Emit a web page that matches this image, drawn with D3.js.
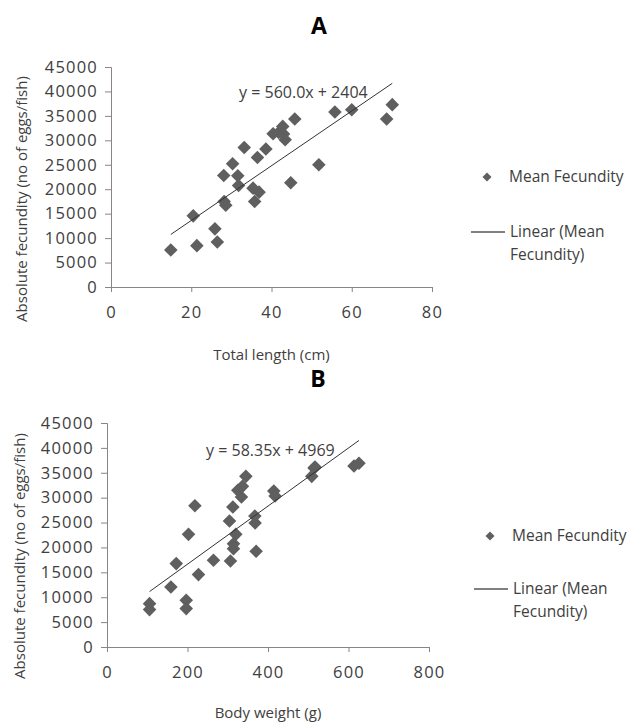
<!DOCTYPE html>
<html>
<head>
<meta charset="utf-8">
<script src="https://cdn.jsdelivr.net/npm/d3@7"></script>
<style>
  body { margin: 0; background: #fff; }
  text { font-family: "Open Sans", sans-serif; fill: #404040; }
</style>
</head>
<body>
<div id="chart"></div>
<script>
// panel A: total length vs fecundity
var lengthA = [14.9, 20.5, 21.4, 25.9, 26.5, 28.1, 28.2, 28.6, 30.3, 31.6, 31.8, 33.2, 35.4, 35.8, 36.5,
  36.9, 38.6, 40.4, 41.8, 42.8, 43.0, 43.4, 44.8, 45.8, 51.8, 55.8, 60.0, 68.7, 70.1];
var fecundityA = [7580, 14550, 8460, 11890, 9220, 22800, 17480, 16740, 25200, 22750, 20760, 28550, 20220, 17480, 26500,
  19400, 28210, 31350, 31620, 32850, 31290, 30120, 21310, 34370, 25000, 35800, 36270, 34370, 37300];

// panel B: body weight vs fecundity
var weightB = [105.7, 105.7, 158.8, 172, 196.8, 196.8, 202.5, 218.4, 227.3, 264.5, 304.3, 306.7, 312.7, 314.2, 314.2,
  320, 325, 334, 336.5, 345, 367.3, 368, 370.5, 414.4, 417.6, 508.7, 514.4, 516.9, 613.6, 626];
var fecundityB = [8710, 7510, 12050, 16750, 9380, 7710, 22630, 28390, 14540, 17410, 25300, 17270, 28110, 20760, 19760,
  22630, 31470, 30120, 32270, 34280, 26310, 24900, 19220, 31330, 30320, 34280, 35950, 36140, 36350, 36900];

// trend line coefficients (slope, intercept)
var trendA = [560.0, 2404];
var trendB = [58.35, 4969];
var equationLabels = ["y = 560.0x + 2404", "y = 58.35x + 4969"];

var yTicks = [0, 5000, 10000, 15000, 20000, 25000, 30000, 35000, 40000, 45000];
var xTicksA = [0, 20, 40, 60, 80];
var xTicksB = [0, 200, 400, 600, 800];

var panelTitles = ["A", "B"];
var xTitles = ["Total length (cm)", "Body weight (g)"];
var yTitle = "Absolute fecundity (no of eggs/fish)";
var legendLabels = ["Mean Fecundity", "Linear (Mean", "Fecundity)"];

var svg = d3.select("#chart")
  .append("svg")
  .attr("width", 635)
  .attr("height", 722);

var diamond = d3.symbol().type(d3.symbolSquare).size(92);

function drawPanel(opt) {
  var x = d3.scaleLinear().domain([0, opt.xMax]).range([opt.left, opt.right]);
  var y = d3.scaleLinear().domain([0, 45000]).range([opt.bottom, opt.top]);

  // title
  svg.append("text")
    .attr("x", opt.titleX)
    .attr("y", opt.titleY)
    .attr("text-anchor", "middle")
    .style("font-size", "23px")
    .style("font-weight", "bold")
    .style("fill", "#000")
    .text(opt.title);

  // y axis
  var yAxis = svg.append("g")
    .attr("transform", `translate(${opt.left}, 0)`)
    .call(d3.axisLeft(y).tickValues(yTicks).tickSize(6).tickPadding(7).tickFormat(d3.format("d")));

  // x axis
  var xAxis = svg.append("g")
    .attr("transform", `translate(0, ${opt.bottom})`)
    .call(d3.axisBottom(x).tickValues(opt.xTicks).tickSize(5).tickPadding(14));

  [yAxis, xAxis].forEach(function(ax) {
    ax.select(".domain").attr("stroke", "#868686");
    ax.selectAll(".tick line").attr("stroke", "#868686");
    ax.selectAll(".tick text")
      .style("font-size", "16.5px")
      .style("letter-spacing", "1.2px")
      .style("font-family", "'Open Sans', sans-serif")
      .attr("fill", "#404040");
  });

  // points
  svg.append("g").selectAll("path")
    .data(opt.xs)
    .enter()
    .append("path")
    .attr("d", diamond)
    .attr("transform", (d, i) => `translate(${x(d)}, ${y(opt.ys[i])}) rotate(45)`)
    .attr("fill", "#5f5f5f");

  // trend line
  var x0 = d3.min(opt.xs), x1 = d3.max(opt.xs);
  svg.append("line")
    .attr("x1", x(x0))
    .attr("y1", y(opt.trend[0] * x0 + opt.trend[1]))
    .attr("x2", x(x1))
    .attr("y2", y(opt.trend[0] * x1 + opt.trend[1]))
    .attr("stroke", "#333")
    .attr("stroke-width", 1);

  svg.append("text")
    .attr("x", opt.eqX)
    .attr("y", opt.eqY)
    .attr("dy", "0.35em")
    .style("font-size", "16px")
    .text(opt.equation);

  // axis titles
  svg.append("text")
    .attr("x", (opt.left + opt.right) / 2)
    .attr("y", opt.xTitleY)
    .attr("text-anchor", "middle")
    .style("font-size", "15px")
    .text(opt.xTitle);

  svg.append("text")
    .attr("transform", `translate(${opt.yTitleX}, ${opt.yTitleY}) rotate(-90)`)
    .attr("text-anchor", "middle")
    .attr("dy", "0.35em")
    .style("font-size", "15px")
    .text(yTitle);

  // legend
  svg.append("path")
    .attr("d", d3.symbol().type(d3.symbolSquare).size(40))
    .attr("transform", `translate(${opt.legX}, ${opt.legY}) rotate(45)`)
    .attr("fill", "#5f5f5f");

  svg.append("text")
    .attr("x", opt.legX + 22)
    .attr("y", opt.legY)
    .attr("dy", "0.35em")
    .style("font-size", "15.5px")
    .text(legendLabels[0]);

  svg.append("line")
    .attr("x1", opt.legX - 16)
    .attr("x2", opt.legX + 18)
    .attr("y1", opt.legY + opt.legGap)
    .attr("y2", opt.legY + opt.legGap)
    .attr("stroke", "#000")
    .attr("stroke-width", 1);

  svg.append("text")
    .attr("x", opt.legX + 23)
    .attr("y", opt.legY + opt.legGap)
    .attr("dy", "0.35em")
    .style("font-size", "15.5px")
    .text(legendLabels[1]);

  svg.append("text")
    .attr("x", opt.legX + 23)
    .attr("y", opt.legY + opt.legGap + 23)
    .attr("dy", "0.35em")
    .style("font-size", "15.5px")
    .text(legendLabels[2]);
}

drawPanel({
  title: panelTitles[0], titleX: 319, titleY: 34,
  xs: lengthA, ys: fecundityA, xMax: 80, xTicks: xTicksA,
  left: 111, right: 432, top: 67, bottom: 287,
  trend: trendA, equation: equationLabels[0], eqX: 239, eqY: 92,
  xTitle: xTitles[0], xTitleY: 360, yTitleX: 22, yTitleY: 199,
  legX: 487, legY: 177, legGap: 55
});

drawPanel({
  title: panelTitles[1], titleX: 318, titleY: 387,
  xs: weightB, ys: fecundityB, xMax: 800, xTicks: xTicksB,
  left: 107, right: 429, top: 423, bottom: 647,
  trend: trendB, equation: equationLabels[1], eqX: 206, eqY: 450,
  xTitle: xTitles[1], xTitleY: 718, yTitleX: 20, yTitleY: 556,
  legX: 490, legY: 536, legGap: 53
});
</script>
</body>
</html>
